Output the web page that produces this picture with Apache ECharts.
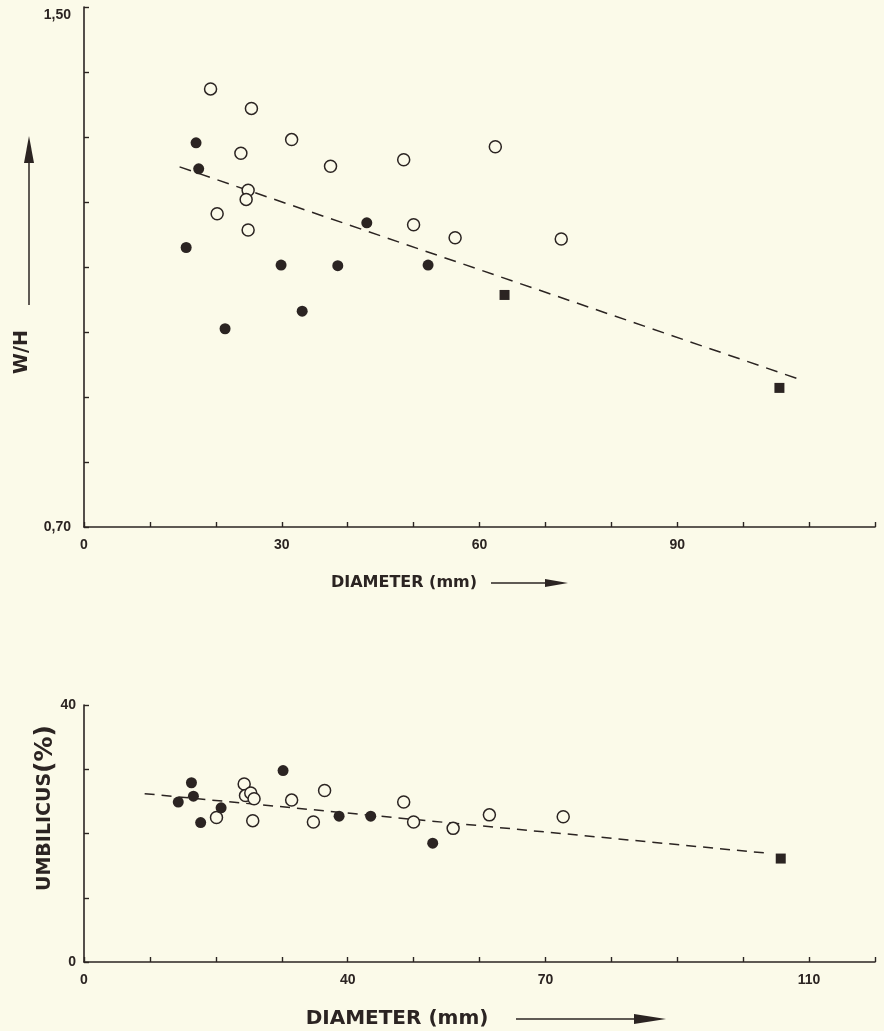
<!DOCTYPE html>
<html lang="en">
  <head>
    <meta charset="UTF-8" />
    <title>W/H and umbilicus vs diameter</title>
    <script src="https://cdn.jsdelivr.net/npm/echarts@6/dist/echarts.min.js"></script>
    <style>
      html, body { margin: 0; padding: 0; background: #fbfae9; }
      #chart { width: 884px; height: 1031px; }
    </style>
  </head>
  <body>
    <div id="chart"></div>
  </body>
</html>
<script>
  // top panel: W/H against diameter (mm)
  const whOpen = [
    [19.2, 1.374], [25.4, 1.344], [31.5, 1.296], [23.8, 1.275], [24.9, 1.218],
    [24.6, 1.204], [20.2, 1.182], [24.9, 1.157], [37.4, 1.255], [48.5, 1.265],
    [62.4, 1.285], [50.0, 1.165], [56.3, 1.145], [72.4, 1.143]
  ];
  const whFilled = [
    [17.0, 1.291], [17.4, 1.251], [15.5, 1.130], [29.9, 1.103], [21.4, 1.005],
    [33.1, 1.032], [38.5, 1.102], [42.9, 1.168], [52.2, 1.103]
  ];
  const whSquare = [[63.8, 1.057], [105.5, 0.914]];
  const whTrend = [[14.5, 1.254], [108.6, 0.927]];
  const whXLabels = [0, 30, 60, 90];
  const whYLabels = { 0.7: "0,70", 1.5: "1,50" };

  // bottom panel: umbilicus (%) against diameter (mm)
  const umOpen = [
    [20.1, 22.5], [24.3, 27.7], [24.5, 25.9], [25.3, 26.3], [25.8, 25.4],
    [25.6, 22.0], [31.5, 25.2], [34.8, 21.8], [36.5, 26.7], [48.5, 24.9],
    [50.0, 21.8], [56.0, 20.8], [61.5, 22.9], [72.7, 22.6]
  ];
  const umFilled = [
    [14.3, 24.9], [16.3, 27.9], [16.6, 25.8], [17.7, 21.7], [20.8, 24.0],
    [30.2, 29.8], [38.7, 22.7], [43.5, 22.7], [52.9, 18.5]
  ];
  const umSquare = [[105.7, 16.1]];
  const umTrend = [[9.2, 26.2], [104.0, 16.9]];
  const umXLabels = [0, 40, 70, 110];
  const umYLabels = [0, 40];

  const ink = "#2b2422";
  const paper = "#fbfae9";
  const font = "Liberation Sans";
  const titleFont = "DejaVu Sans";

  const chart = echarts.init(document.getElementById("chart"));

  function xAxis(gridIndex, labels) {
    return {
      type: "value", gridIndex, min: 0, max: 120, interval: 10,
      axisLine: { show: true, lineStyle: { color: ink, width: 1.6 } },
      axisTick: { show: true, inside: true, length: 5, lineStyle: { color: ink, width: 1.4 } },
      splitLine: { show: false },
      axisLabel: {
        color: ink, fontFamily: font, fontWeight: "bold", fontSize: 14, margin: 11,
        formatter: (v) => (labels.indexOf(Math.round(v)) >= 0 ? String(Math.round(v)) : "")
      }
    };
  }

  const scatter = (xi, data, filled, symbol, size) => ({
    type: "scatter", xAxisIndex: xi, yAxisIndex: xi, data, symbol, symbolSize: size,
    itemStyle: filled
      ? { color: ink, opacity: 1 }
      : { color: paper, borderColor: ink, borderWidth: 1.5, opacity: 1 },
    z: 3
  });

  const trend = (xi, data, dash) => ({
    type: "line", xAxisIndex: xi, yAxisIndex: xi, data, symbol: "none",
    lineStyle: { color: ink, width: 1.5, type: dash }, z: 2
  });

  const option = {
    backgroundColor: paper,
    animation: false,
    grid: [
      { left: 84, right: 9, top: 7, height: 520 },
      { left: 84, right: 9, top: 705, height: 257 }
    ],
    xAxis: [xAxis(0, whXLabels), xAxis(1, umXLabels)],
    yAxis: [
      {
        type: "value", gridIndex: 0, min: 0.7, max: 1.5, interval: 0.1,
        axisLine: { show: true, lineStyle: { color: ink, width: 1.6 } },
        axisTick: { show: true, inside: true, length: 5, lineStyle: { color: ink, width: 1.4 } },
        splitLine: { show: false },
        axisLabel: {
          color: ink, fontFamily: font, fontWeight: "bold", fontSize: 14, margin: 13,
          formatter: (v) => {
            const t = whYLabels[Math.round(v * 10) / 10];
            if (!t) return "";
            return v > 1 ? "{low|" + t + "}" : t;
          },
          rich: {
            low: { fontFamily: font, fontWeight: "bold", fontSize: 14, color: ink, padding: [16, 0, 0, 0] }
          }
        }
      },
      {
        type: "value", gridIndex: 1, min: 0, max: 40, interval: 10,
        axisLine: { show: true, lineStyle: { color: ink, width: 1.6 } },
        axisTick: { show: true, inside: true, length: 5, lineStyle: { color: ink, width: 1.4 } },
        splitLine: { show: false },
        axisLabel: {
          color: ink, fontFamily: font, fontWeight: "bold", fontSize: 14, margin: 8,
          formatter: (v) => (umYLabels.indexOf(v) >= 0 ? String(v) : "")
        }
      }
    ],
    series: [
      trend(0, whTrend, [12, 8]),
      scatter(0, whOpen, false, "circle", 12),
      scatter(0, whFilled, true, "circle", 11),
      scatter(0, whSquare, true, "rect", 10),
      trend(1, umTrend, [10, 7]),
      scatter(1, umOpen, false, "circle", 12),
      scatter(1, umFilled, true, "circle", 11),
      scatter(1, umSquare, true, "rect", 10)
    ],
    graphic: [
      // W/H title with upward arrow
      { type: "text", x: 22, y: 352, rotation: Math.PI / 2,
        style: { text: "W/H", fill: ink, font: "bold 19px " + titleFont, align: "center", verticalAlign: "middle" } },
      { type: "line", shape: { x1: 29, y1: 305, x2: 29, y2: 155 }, style: { stroke: ink, lineWidth: 1.5 } },
      { type: "polygon", shape: { points: [[29, 136], [24, 163], [34, 163]] }, style: { fill: ink } },
      // top DIAMETER title
      { type: "text", x: 404, y: 583,
        style: { text: "DIAMETER (mm)", fill: ink, font: "bold 16px " + titleFont, align: "center", verticalAlign: "middle" } },
      { type: "line", shape: { x1: 491, y1: 583, x2: 550, y2: 583 }, style: { stroke: ink, lineWidth: 1.5 } },
      { type: "polygon", shape: { points: [[568, 583], [545, 579], [545, 587]] }, style: { fill: ink } },
      // bottom UMBILICUS title
      { type: "text", x: 45, y: 808, rotation: Math.PI / 2,
        style: {
          text: "{a|UMBILICUS}{b|(%)}", fill: ink, align: "center", verticalAlign: "middle",
          rich: {
            a: { fontFamily: titleFont, fontWeight: "bold", fontSize: 19, fill: ink },
            b: { fontFamily: titleFont, fontWeight: "bold", fontSize: 25, fill: ink }
          }
        } },
      // bottom DIAMETER title
      { type: "text", x: 397, y: 1019,
        style: { text: "DIAMETER (mm)", fill: ink, font: "bold 20px " + titleFont, align: "center", verticalAlign: "middle" } },
      { type: "line", shape: { x1: 516, y1: 1019, x2: 640, y2: 1019 }, style: { stroke: ink, lineWidth: 1.5 } },
      { type: "polygon", shape: { points: [[666, 1019], [634, 1014], [634, 1024]] }, style: { fill: ink } }
    ]
  };
  chart.setOption(option);
</script>
